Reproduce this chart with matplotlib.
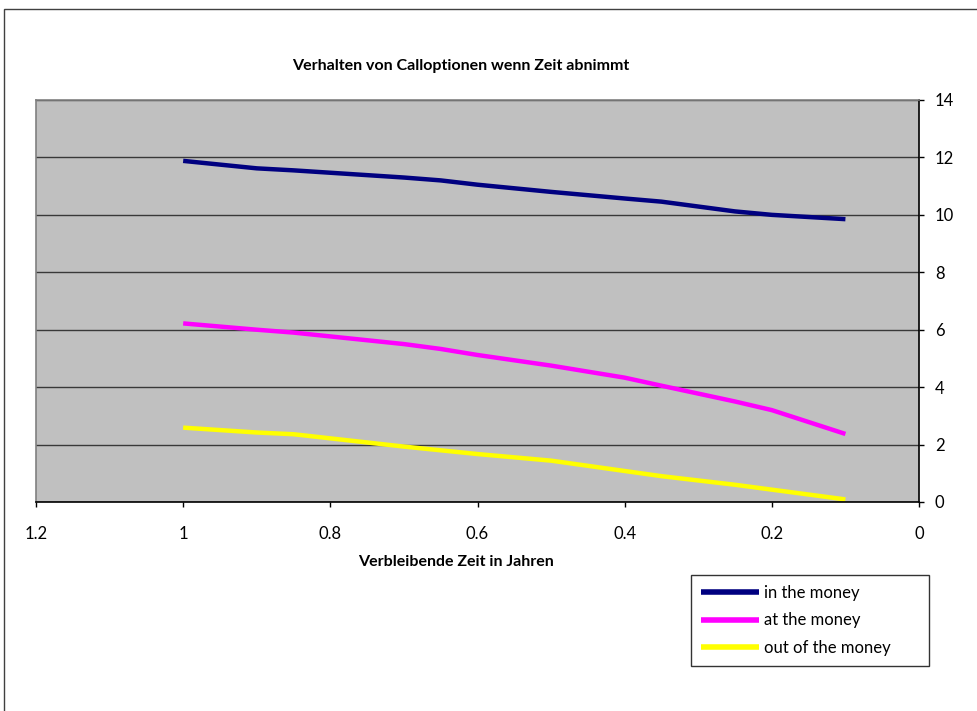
import matplotlib

matplotlib.use("Agg")
import matplotlib.pyplot as plt
from matplotlib.patches import Rectangle

plt.rcParams["font.family"] = ["Lato", "DejaVu Sans"]

# remaining time in years and option prices
years = [1.0, 0.9, 0.85, 0.7, 0.65, 0.6, 0.5, 0.4, 0.35, 0.25, 0.2, 0.1]
in_the_money = [11.88, 11.62, 11.55, 11.3, 11.2, 11.05, 10.8, 10.57, 10.46, 10.12, 10.0, 9.85]
at_the_money = [6.22, 6.0, 5.9, 5.5, 5.33, 5.12, 4.75, 4.33, 4.05, 3.5, 3.2, 2.37]
out_of_money = [2.59, 2.42, 2.36, 1.93, 1.8, 1.67, 1.44, 1.08, 0.9, 0.6, 0.43, 0.09]

series = [
    ("in the money", in_the_money, "#000080"),
    ("at the money", at_the_money, "#FF00FF"),
    ("out of the money", out_of_money, "#FFFF00"),
]

W, H = 977, 711
fig = plt.figure(figsize=(W / 100, H / 100), dpi=100)
ax = fig.add_axes([36 / W, 1 - 502 / H, (919 - 36) / W, (502 - 100) / H])
ax.set_facecolor("#C0C0C0")

for label, vals, color in series:
    ax.plot(years, vals, color=color, lw=3.2, label=label, solid_capstyle="butt")

ax.set_xlim(1.2, 0)
ax.set_ylim(0, 14)
ax.set_xticks([1.2, 1, 0.8, 0.6, 0.4, 0.2, 0])
ax.set_xticklabels(["1.2", "1", "0.8", "0.6", "0.4", "0.2", "0"])
ax.set_yticks(range(0, 15, 2))
ax.yaxis.tick_right()
ax.tick_params(axis="both", labelsize=12, length=3.5, color="black", width=1)
ax.tick_params(axis="x", pad=14)
ax.tick_params(axis="y", pad=8)
ax.grid(axis="y", color="black", lw=1.0, alpha=0.7)
ax.set_axisbelow(True)
for side in ("left", "top"):
    ax.spines[side].set_color("#808080")
    ax.spines[side].set_linewidth(1.2)
for side in ("right", "bottom"):
    ax.spines[side].set_color("black")
    ax.spines[side].set_linewidth(1.2)

fig.text(461 / W, 1 - 66 / H, "Verhalten von Calloptionen wenn Zeit abnimmt",
         ha="center", va="center", fontsize=11.5, fontweight="bold")
fig.text(456 / W, 1 - 562 / H, "Verbleibende Zeit in Jahren",
         ha="center", va="center", fontsize=11.5, fontweight="bold")

leg = ax.legend(loc="upper left",
                bbox_to_anchor=(691 / W, 1 - 666 / H, 238 / W, 91 / H),
                bbox_transform=fig.transFigure, mode="expand", frameon=True,
                fancybox=False, fontsize=12, handlelength=3.5, handletextpad=0.3,
                labelspacing=0.68, borderpad=0.6, borderaxespad=0)
leg.get_frame().set_edgecolor("black")
leg.get_frame().set_linewidth(1.0)
for line in leg.get_lines():
    line.set_linewidth(4)

# outer chart frame (only left/top visible in the crop)
fig.patches.append(Rectangle((4 / W, -0.1), 1.2, 1 - 9 / H + 0.1,
                             transform=fig.transFigure, fill=False,
                             edgecolor="#404040", lw=1.0, figure=fig))

fig.savefig("out.png", dpi=100)
